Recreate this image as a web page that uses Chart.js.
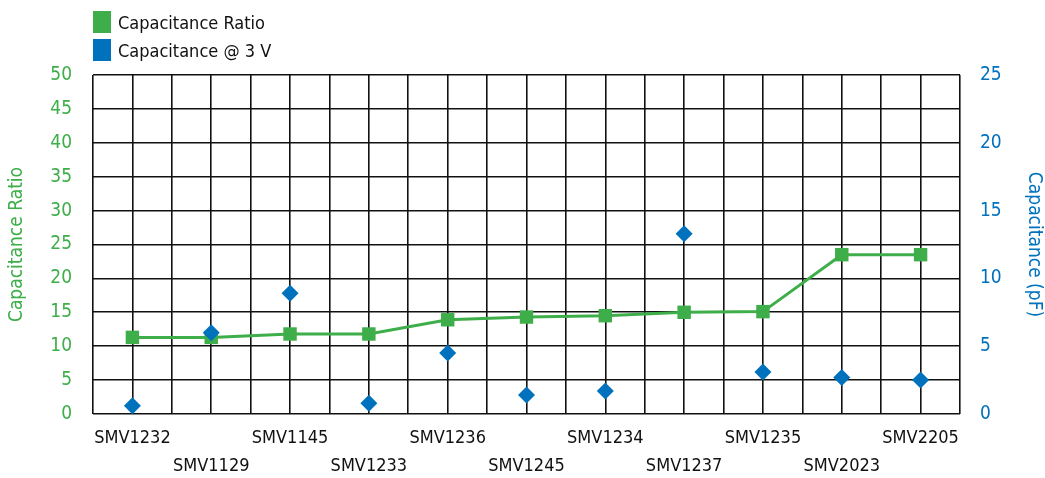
<!DOCTYPE html>
<html>
<head>
<meta charset="utf-8">
<script src="https://cdn.jsdelivr.net/npm/chart.js@4.4.1/dist/chart.umd.min.js"></script>
<style>
  html, body { margin: 0; padding: 0; background: #fff; }
  #wrap { position: relative; width: 1045px; height: 478px; }
  #legend { position: absolute; left: 93px; top: 11px; font-family: "DejaVu Sans Condensed", "Liberation Sans", sans-serif; font-size: 18px; color: #111; }
  .item { display: flex; align-items: center; height: 22px; margin-bottom: 6px; }
  .sw { width: 18px; height: 22px; margin-right: 7px; }
</style>
</head>
<body>
<div id="wrap">
  <canvas id="c" width="1045" height="478"></canvas>
  <div id="legend">
    <div class="item"><span class="sw" style="background:#3dae49"></span><span>Capacitance Ratio</span></div>
    <div class="item"><span class="sw" style="background:#0071bc"></span><span>Capacitance @ 3 V</span></div>
  </div>
</div>
<script>
const categories = ["SMV1232","SMV1129","SMV1145","SMV1233","SMV1236","SMV1245","SMV1234","SMV1237","SMV1235","SMV2023","SMV2205"];
const capacitanceRatio = [11.3, 11.3, 11.8, 11.8, 13.9, 14.3, 14.5, 15.0, 15.1, 23.5, 23.5];
const capacitance3V = [0.6, 6.0, 8.9, 0.8, 4.5, 1.4, 1.7, 13.3, 3.1, 2.7, 2.5];
const ratioTicks = [0, 5, 10, 15, 20, 25, 30, 35, 40, 45, 50];
const capTicks = [0, 5, 10, 15, 20, 25];

const GREEN = '#3dae49';
const BLUE = '#0071bc';
const FONT = '"DejaVu Sans Condensed", "Liberation Sans", sans-serif';

new Chart(document.getElementById('c'), {
  type: 'line',
  data: {
    datasets: [
      {
        label: 'Capacitance Ratio',
        data: capacitanceRatio.map((v, i) => ({ x: i, y: v })),
        yAxisID: 'y',
        order: 1,
        borderColor: GREEN,
        backgroundColor: GREEN,
        borderWidth: 3,
        pointStyle: 'rect',
        pointRadius: 9.5,
        pointBorderWidth: 0,
        tension: 0
      },
      {
        label: 'Capacitance @ 3 V',
        data: capacitance3V.map((v, i) => ({ x: i, y: v })),
        yAxisID: 'y1',
        order: 0,
        showLine: false,
        borderColor: BLUE,
        backgroundColor: BLUE,
        pointStyle: 'rectRot',
        pointRadius: 8.5,
        pointBorderWidth: 0
      }
    ]
  },
  options: {
    responsive: false,
    animation: false,
    layout: { padding: { top: 75, left: 0, right: 0, bottom: 0 } },
    plugins: { legend: { display: false }, tooltip: { enabled: false } },
    scales: {
      x: {
        type: 'linear',
        min: -0.5,
        max: 10.5,
        afterFit: s => { s.height = 64; },
        grid: { color: '#111', lineWidth: 1.6, drawTicks: false },
        border: { display: false },
        afterBuildTicks: s => {
          const t = [];
          for (let k = -1; k <= 2 * (categories.length) - 1; k++) t.push({ value: k / 2 });
          s.ticks = t;
        },
        ticks: {
          autoSkip: false,
          maxRotation: 0,
          padding: 10,
          color: '#111',
          font: { family: FONT, size: 18, lineHeight: 1.55 },
          callback: v => {
            if (!Number.isInteger(v) || v < 0 || v >= categories.length) return '';
            return v % 2 === 0 ? [categories[v], ''] : ['', categories[v]];
          }
        }
      },
      y: {
        position: 'left',
        min: 0,
        max: 50,
        afterFit: s => { s.width = 93; },
        afterBuildTicks: s => { s.ticks = ratioTicks.map(v => ({ value: v })); },
        grid: { color: '#111', lineWidth: 1.6, drawTicks: false },
        border: { display: false },
        ticks: { padding: 21, color: GREEN, font: { family: FONT, size: 19 } },
        title: { display: true, text: 'Capacitance Ratio', color: GREEN, font: { family: FONT, size: 19 }, padding: { top: 6, bottom: 0 } }
      },
      y1: {
        position: 'right',
        min: 0,
        max: 25,
        afterFit: s => { s.width = 85; },
        afterBuildTicks: s => { s.ticks = capTicks.map(v => ({ value: v })); },
        grid: { display: false, drawTicks: false },
        border: { display: false },
        ticks: { padding: 20, color: BLUE, font: { family: FONT, size: 19 } },
        title: { display: true, text: 'Capacitance (pF)', color: BLUE, font: { family: FONT, size: 19 }, padding: { top: 0, bottom: 1 } }
      }
    }
  }
});
</script>
</body>
</html>
